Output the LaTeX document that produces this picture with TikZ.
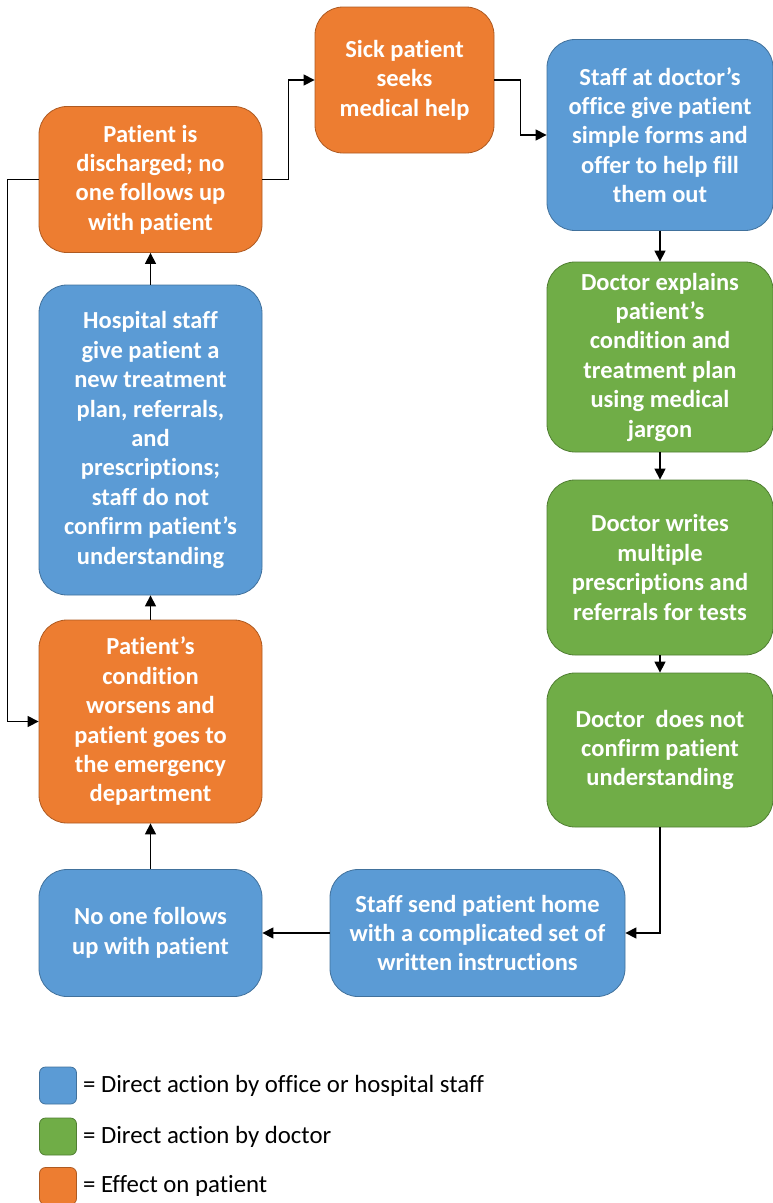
\documentclass[tikz,border=0pt]{standalone}
\usepackage{fontspec}
\setmainfont[Ligatures={NoCommon,NoContextual}, Contextuals=NoAlternate]{Carlito}
\usetikzlibrary{arrows.meta}

\definecolor{officeblue}{HTML}{5B9BD5}
\definecolor{officeblueline}{HTML}{41719C}
\definecolor{doctorgreen}{HTML}{70AD47}
\definecolor{doctorgreenline}{HTML}{507E32}
\definecolor{patientorange}{HTML}{ED7D31}
\definecolor{patientorangeline}{HTML}{AE5A21}

\begin{document}
\begin{tikzpicture}[x=1pt, y=-1pt,
    stepbox/.style={draw, rectangle, rounded corners=28pt, inner sep=0pt, align=center, text=white,
                    font=\fontsize{24.5}{29.4}\selectfont\bfseries, line width=0.8pt},
    staffbox/.style={stepbox, fill=officeblue, draw=officeblueline},
    doctorbox/.style={stepbox, fill=doctorgreen, draw=doctorgreenline},
    effectbox/.style={stepbox, fill=patientorange, draw=patientorangeline},
    keybox/.style={draw, rectangle, rounded corners=6pt, minimum width=37pt, minimum height=37pt, line width=0.8pt},
    keytext/.style={anchor=west, font=\fontsize{24.8}{29}\selectfont, inner sep=0pt},
    flow/.style={-{Triangle[length=11pt, width=11pt]}, line width=1.3pt}]
            \useasboundingbox (0,0) rectangle (773,1203);

            \node[effectbox, minimum width=179pt, minimum height=146pt] (sick) at (404.5,80) {Sick patient\\seeks\\medical help};
            \node[staffbox, minimum width=226pt, minimum height=191pt] (office) at (660,135) {Staff at doctor’s\\office give patient\\simple forms and\\offer to help fill\\them out};
            \node[doctorbox, minimum width=226pt, minimum height=190pt] (explains) at (660,357) {Doctor explains\\patient’s\\condition and\\treatment plan\\using medical\\jargon};
            \node[doctorbox, minimum width=226pt, minimum height=175pt] (writes) at (660,567.5) {Doctor writes\\multiple\\prescriptions and\\referrals for tests};
            \node[doctorbox, minimum width=226pt, minimum height=154pt] (noconfirm) at (660,750) {Doctor\ \ does not\\confirm patient\\understanding};
            \node[staffbox, minimum width=295pt, minimum height=127pt] (sendhome) at (477.5,933) {Staff send patient home\\with a complicated set of\\written instructions};
            \node[staffbox, minimum width=223pt, minimum height=127pt] (nofollow) at (150.5,933) {No one follows\\up with patient};
            \node[effectbox, minimum width=223pt, minimum height=203pt] (worsens) at (150.5,721.5) {Patient’s\\condition\\worsens and\\patient goes to\\the emergency\\department};
            \node[staffbox, minimum width=223pt, minimum height=310pt] (hospital) at (150.5,440) {Hospital staff\\give patient a\\new treatment\\plan, referrals,\\and\\prescriptions;\\staff do not\\confirm patient’s\\understanding};
            \node[effectbox, minimum width=223pt, minimum height=146pt] (discharged) at (150.5,179.5) {Patient is\\discharged; no\\one follows up\\with patient};

            \draw[flow] (discharged.east) -- ++(26,0) |- (sick.west);
            \draw[flow] (sick.east) -- ++(26,0) |- (office.west);
            \draw[flow] (office) -- (explains);
            \draw[flow] (explains) -- (writes);
            \draw[flow] (writes) -- (noconfirm);
            \draw[flow] (noconfirm.south) |- (sendhome.east);
            \draw[flow] (sendhome) -- (nofollow);
            \draw[flow] (nofollow) -- (worsens);
            \draw[flow] (worsens) -- (hospital);
            \draw[flow] (hospital) -- (discharged);
            \draw[flow] (discharged.west) -- ++(-31,0) |- (worsens.west);

            % legend
            \node[keybox, fill=officeblue, draw=officeblueline] (keystaff) at (58,1085.5) {};
            \node[keybox, fill=doctorgreen, draw=doctorgreenline] (keydoctor) at (58,1136.5) {};
            \node[keybox, fill=patientorange, draw=patientorangeline] (keyeffect) at (58,1186) {};
            \node[keytext] (keystafftext) at ([xshift=6pt]keystaff.east) {= Direct action by office or hospital staff};
            \node[keytext] (keydoctortext) at ([xshift=6pt]keydoctor.east) {= Direct action by doctor};
            \node[keytext] (keyeffecttext) at ([xshift=6pt]keyeffect.east) {= Effect on patient};
        \end{tikzpicture}
\end{document}
